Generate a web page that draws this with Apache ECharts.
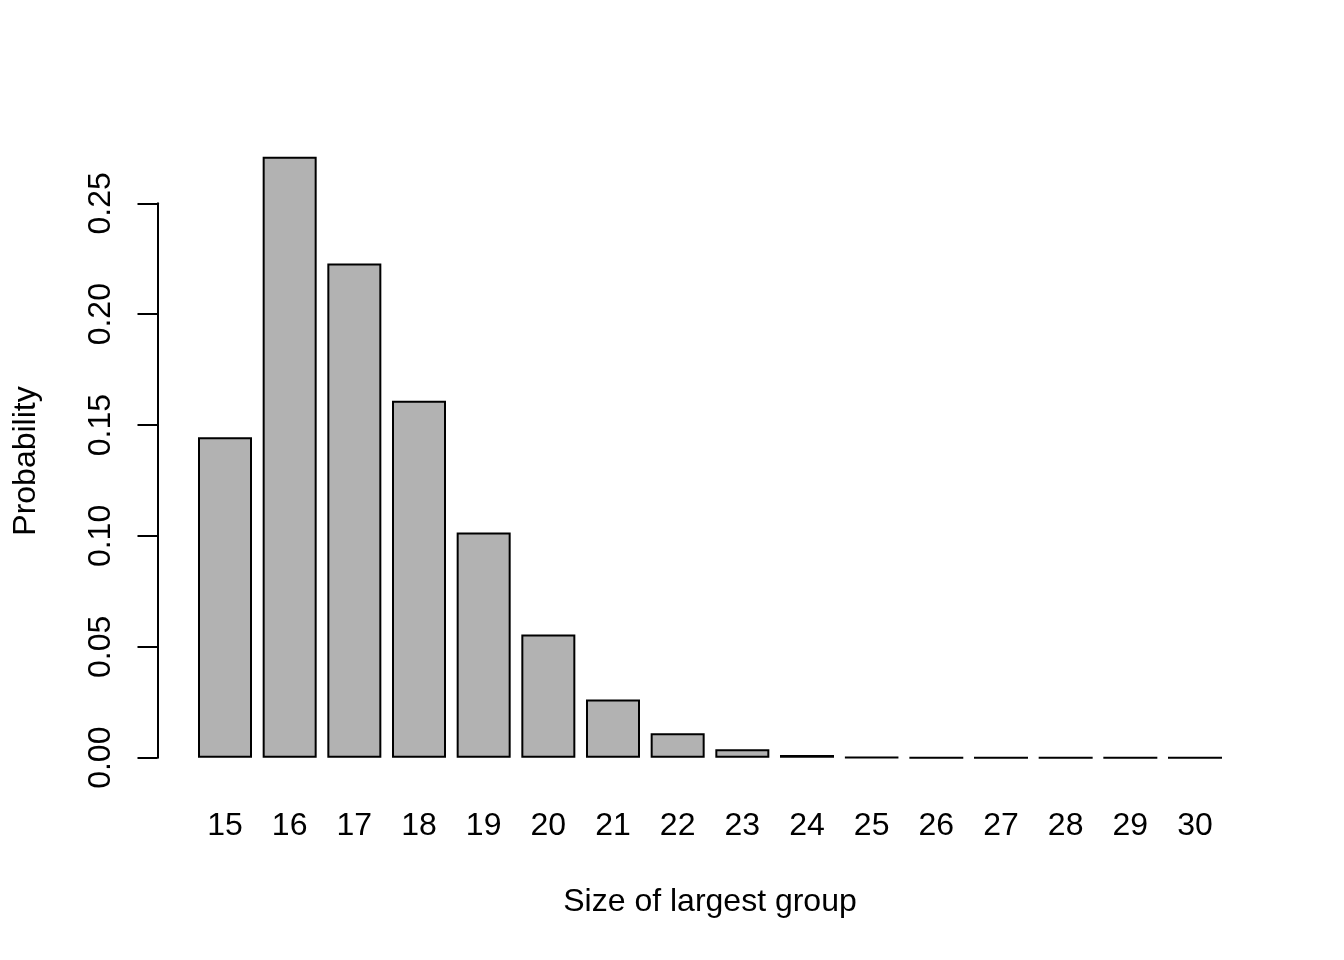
<!DOCTYPE html>
<html lang="en">

<head>
    <meta charset="UTF-8">
    <title>Size of largest group</title>
    <style>
        * {
            margin: 0;
            padding: 0;
        }

        #main {
            width: 1344px;
            height: 960px;
            background: #fff;
        }
    </style>
</head>

<body>
    <div id="main"></div>

    <script src="https://cdn.jsdelivr.net/npm/echarts@6/dist/echarts.min.js"></script>
    <script>
        // data
        var sizes = ['15', '16', '17', '18', '19', '20', '21', '22', '23', '24', '25', '26', '27', '28', '29', '30'];
        var probs = [0.1445, 0.2710, 0.2229, 0.1610, 0.1016, 0.0556, 0.0263, 0.0110, 0.0038, 0.0012, 0.0002,
            0.00004, 0.000006, 0.0000008, 0.0000001, 0.00000001];
        var yTicks = [0, 0.05, 0.10, 0.15, 0.20, 0.25];

        var font = 'Liberation Sans, Arial, Helvetica, sans-serif';
        var chart = echarts.init(document.getElementById('main'));

        var option = {
            animation: false,
            backgroundColor: '#ffffff',
            grid: [
                // bars
                { left: 192.67, right: 116.67, top: 92.4, bottom: 202.3 },
                // y axis only (runs 0 .. 0.25 like R's axis)
                { left: 157.5, right: 116.67, top: 203.3, bottom: 202.3 }
            ],
            xAxis: [
                {
                    type: 'category',
                    gridIndex: 0,
                    data: sizes,
                    axisLine: { show: false },
                    axisTick: { show: false },
                    axisLabel: {
                        color: '#000',
                        fontFamily: font,
                        fontSize: 32,
                        margin: 52
                    }
                },
                { type: 'category', gridIndex: 1, data: sizes, show: false }
            ],
            yAxis: [
                { type: 'value', gridIndex: 0, min: 0, max: 0.3, show: false },
                {
                    type: 'value',
                    gridIndex: 1,
                    min: yTicks[0],
                    max: yTicks[yTicks.length - 1],
                    interval: 0.05,
                    splitLine: { show: false },
                    axisLine: { show: true, lineStyle: { color: '#000', width: 2 } },
                    axisTick: { show: true, length: 20, lineStyle: { color: '#000', width: 2 } },
                    axisLabel: {
                        color: '#000',
                        fontFamily: font,
                        fontSize: 32,
                        rotate: 90,
                        margin: 40,
                        formatter: function (v) { return v.toFixed(2); }
                    }
                }
            ],
            graphic: [
                {
                    type: 'text',
                    x: 710,
                    y: 902,
                    style: {
                        text: 'Size of largest group',
                        fill: '#000',
                        font: '32px ' + font,
                        align: 'center',
                        verticalAlign: 'middle'
                    }
                },
                {
                    type: 'text',
                    x: 26,
                    y: 461,
                    rotation: Math.PI / 2,
                    style: {
                        text: 'Probability',
                        fill: '#000',
                        font: '32px ' + font,
                        align: 'center',
                        verticalAlign: 'middle'
                    }
                }
            ],
            series: [
                {
                    type: 'bar',
                    xAxisIndex: 0,
                    yAxisIndex: 0,
                    data: probs,
                    barWidth: 54,
                    itemStyle: {
                        color: '#b2b2b2',
                        borderColor: '#000',
                        borderWidth: 2
                    },
                    emphasis: { disabled: true }
                }
            ]
        };
        chart.setOption(option);
    </script>
</body>

</html>
